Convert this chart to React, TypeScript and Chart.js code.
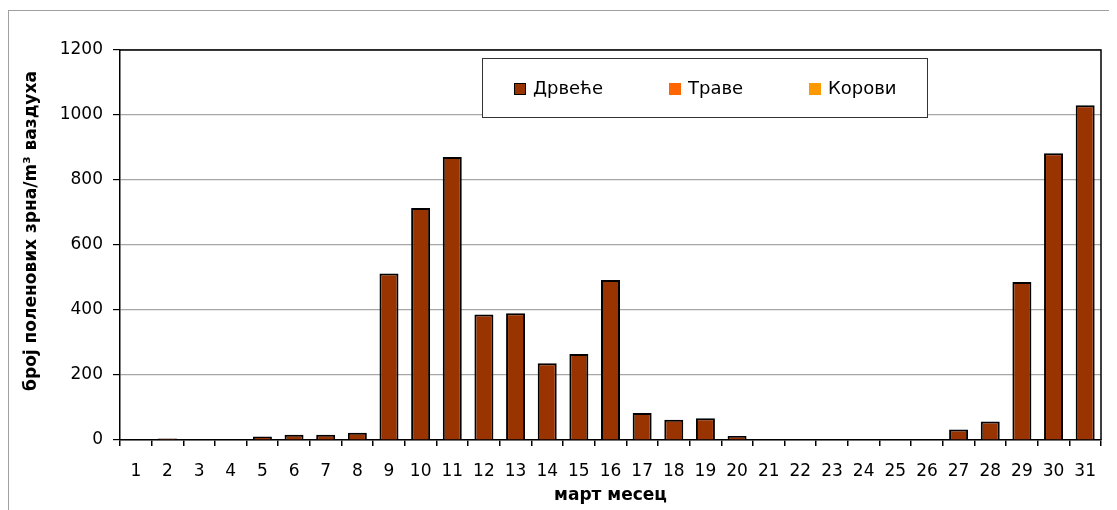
import React, { useEffect, useRef } from "react";
import { Chart, registerables } from "chart.js";

Chart.register(...registerables);

const days = Array.from({ length: 31 }, (_, i) => String(i + 1));
const trees = [0, 5, 0, 0, 11, 16, 16, 22, 512, 714, 871, 386, 390, 236, 265, 492, 83, 62, 67, 12, 0, 0, 0, 0, 0, 0, 32, 57, 486, 882, 1030];
const grasses = new Array(31).fill(0);
const weeds = new Array(31).fill(0);
const seriesLabels = ["Дрвеће", "Траве", "Корови"];
const seriesColors = ["#993300", "#FF6600", "#FF9900"];
const yTitle = "број поленових зрна/m³ ваздуха";
const xTitle = "март месец";

const FONT = "'DejaVu Sans', sans-serif";

const frameAndLegend = {
  id: "frameAndLegend",
  beforeDatasetsDraw(chart: any) {
    const { ctx, chartArea } = chart;
    ctx.save();
    ctx.strokeStyle = "#000";
    ctx.lineWidth = 1.5;
    ctx.beginPath();
    ctx.moveTo(chartArea.left, chartArea.top);
    ctx.lineTo(chartArea.right, chartArea.top);
    ctx.lineTo(chartArea.right, chartArea.bottom);
    ctx.stroke();
    ctx.restore();
  },
  afterDraw(chart: any) {
    const { ctx, chartArea } = chart;
    ctx.save();
    // y axis title
    ctx.save();
    ctx.translate(23, (chartArea.top + chartArea.bottom) / 2 - 14);
    ctx.rotate(-Math.PI / 2);
    ctx.font = `bold 17px ${FONT}`;
    ctx.fillStyle = "#000";
    ctx.textAlign = "center";
    ctx.textBaseline = "middle";
    ctx.fillText(yTitle, 0, 0);
    ctx.restore();
    // legend box
    const bx = 473, by = 47, bw = 445, bh = 59;
    ctx.fillStyle = "#fff";
    ctx.fillRect(bx, by, bw, bh);
    ctx.strokeStyle = "#333";
    ctx.lineWidth = 1;
    ctx.strokeRect(bx + 0.5, by + 0.5, bw, bh);
    const sx = [505, 660, 800];
    const tx = [524, 679, 819];
    ctx.font = `18px ${FONT}`;
    ctx.textBaseline = "middle";
    chart.data.datasets.forEach((ds: any, i: number) => {
      ctx.fillStyle = ds.backgroundColor;
      ctx.fillRect(sx[i], 72, 12, 12);
      if (i === 0) {
        ctx.strokeStyle = "#000";
        ctx.lineWidth = 1;
        ctx.strokeRect(sx[i] + 0.5, 72.5, 11, 11);
      }
      ctx.fillStyle = "#000";
      ctx.fillText(ds.label, tx[i], 78);
    });
    ctx.restore();
  },
};

export default function App() {
  const ref = useRef<HTMLCanvasElement>(null);
  useEffect(() => {
    document.documentElement.style.overflow = "hidden";
    const chart = new Chart(ref.current!, {
      type: "bar",
      data: {
        labels: days,
        datasets: [
          { label: seriesLabels[0], data: trees, backgroundColor: seriesColors[0], borderColor: "#000", borderWidth: 2 },
          { label: seriesLabels[1], data: grasses, backgroundColor: seriesColors[1], borderWidth: 0 },
          { label: seriesLabels[2], data: weeds, backgroundColor: seriesColors[2], borderWidth: 0 },
        ],
      },
      options: {
        animation: false,
        responsive: false,
        devicePixelRatio: 1,
        layout: { padding: { left: 0, right: 16, top: 39, bottom: 0 } },
        datasets: { bar: { barPercentage: 0.6, categoryPercentage: 1 } },
        plugins: { legend: { display: false }, tooltip: { enabled: false } },
        scales: {
          x: {
            stacked: true,
            grid: { drawOnChartArea: false, drawTicks: true, tickLength: 6, color: "#000", tickColor: "#000", offset: true, lineWidth: 1.5 },
            border: { color: "#000", width: 1.5 },
            ticks: { color: "#000", font: { family: FONT, size: 17 }, padding: 15, maxRotation: 0, autoSkip: false },
            title: { display: true, text: xTitle, color: "#000", font: { family: FONT, size: 17, weight: "bold" }, padding: { top: 0, bottom: 4 } },
            afterFit: (s: any) => { s.height = 70; },
          },
          y: {
            stacked: true,
            min: 0,
            max: 1200,
            ticks: { stepSize: 200, color: "#000", font: { family: FONT, size: 17 }, padding: 10, callback: (v: any) => String(v) },
            grid: { color: "#a6a6a6", tickColor: "#000", tickLength: 7, lineWidth: 1.2 },
            border: { color: "#000", width: 1.5 },
            title: { display: false },
            afterFit: (s: any) => { s.width = 111; },
          },
        },
      },
      plugins: [frameAndLegend],
    });
    return () => chart.destroy();
  }, []);
  return (
    <div style={{ paddingTop: 2 }}>
      <div style={{ width: 1109, height: 500, borderLeft: "1px solid #a0a0a0", borderTop: "1px solid #a0a0a0", boxSizing: "border-box" }}>
        <canvas ref={ref} width={1108} height={499} style={{ display: "block" }} />
      </div>
    </div>
  );
}
